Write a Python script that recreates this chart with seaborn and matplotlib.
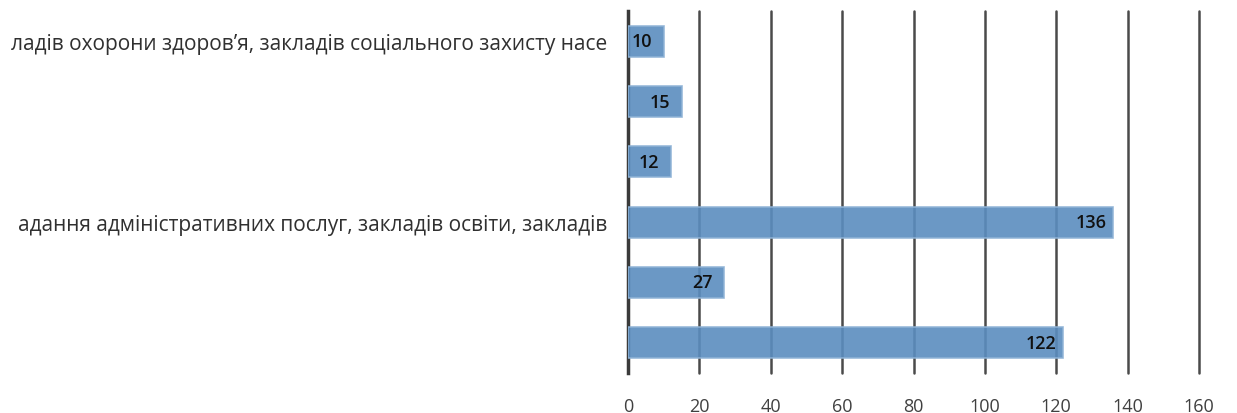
import numpy as np
import pandas as pd
import matplotlib
matplotlib.use("Agg")
import matplotlib.pyplot as plt
import seaborn as sns

# categories top to bottom (only two labels are visible in the source,
# both already truncated there)
categories = ["cat1", "cat2", "cat3", "cat4", "cat5", "cat6"]
tick_labels = [
    "ладів охорони здоров’я, закладів соціального захисту насе",
    "",
    "",
    "адання адміністративних послуг, закладів освіти, закладів",
    "",
    "",
]
values = [10, 15, 12, 136, 27, 122]
x_ticks = [0, 20, 40, 60, 80, 100, 120, 140, 160]

df = pd.DataFrame({"cat": categories, "value": values})

sns.set_style("white")
plt.rcParams["font.family"] = ["Open Sans", "DejaVu Sans"]

fig = plt.figure(figsize=(12.37, 4.14), dpi=100)
ax = fig.add_axes([628 / 1237, 40 / 414, 571 / 1237, 362 / 414])

sns.barplot(data=df, x="value", y="cat", orient="h", color="#5b8dbf",
            width=0.51, alpha=0.9, edgecolor="#8fb3d6", linewidth=1.2,
            saturation=1, ax=ax, zorder=3)

ax.set_xlim(0, 160)
ax.set_ylim(5.5, -0.5)
ax.set_xticks(x_ticks)
ax.set_yticks(range(len(categories)))
ax.set_yticklabels(tick_labels)
ax.set_xlabel("")
ax.set_ylabel("")

ax.grid(axis="x", color="#4a4a4a", linewidth=1.8, zorder=1)
ax.set_axisbelow(True)
for line in ax.get_xgridlines():
    line.set_clip_on(False)
for side in ["top", "right", "bottom"]:
    ax.spines[side].set_visible(False)
ax.spines["left"].set_color("#3a3a3a")
ax.spines["left"].set_linewidth(2.5)

ax.tick_params(axis="x", length=0, pad=17, labelsize=13, labelcolor="#404040")
ax.tick_params(axis="y", length=0, pad=15, labelsize=15, labelcolor="#303030")

for i, v in enumerate(values):
    ax.annotate(str(v), xy=(v, i), xytext=(-22, 0), textcoords="offset pixels",
                ha="center", va="center", fontsize=13, color="#111111",
                fontweight="semibold", zorder=5)

fig.savefig("out.png", dpi=100)
